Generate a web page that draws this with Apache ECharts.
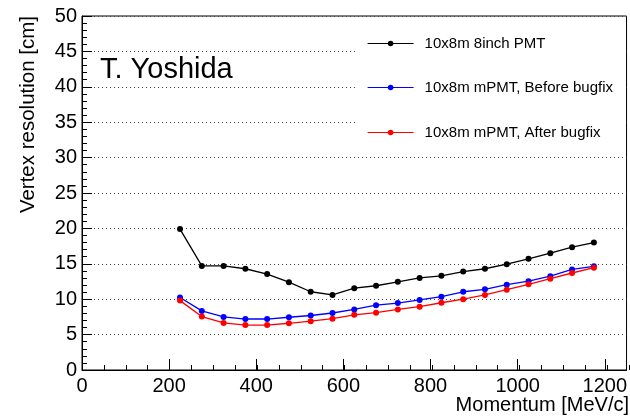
<!DOCTYPE html>
<html>
<head>
<meta charset="utf-8">
<script src="https://cdn.jsdelivr.net/npm/echarts@6/dist/echarts.min.js"></script>
<style>
  html, body { margin: 0; padding: 0; background: #fff; }
  #chart { width: 630px; height: 416px; }
</style>
</head>
<body>
<div id="chart"></div>
<script>
// Beam momentum points [MeV/c]
const momentum = [225, 275, 325, 375, 425, 475, 525, 575, 625, 675,
                  725, 775, 825, 875, 925, 975, 1025, 1075, 1125, 1175];

// Vertex resolution [cm] for each detector configuration
const pmt8inch = [19.9, 14.7, 14.7, 14.3, 13.55, 12.4, 11.05, 10.6, 11.55, 11.9,
                  12.45, 13.0, 13.3, 13.9, 14.3, 14.95, 15.7, 16.5, 17.35, 18.0];
const mpmtBefore = [10.25, 8.35, 7.5, 7.2, 7.2, 7.45, 7.7, 8.05, 8.55, 9.15,
                    9.45, 9.9, 10.35, 11.05, 11.4, 12.05, 12.55, 13.25, 14.2, 14.65];
const mpmtAfter = [9.8, 7.55, 6.65, 6.35, 6.35, 6.6, 6.9, 7.25, 7.8, 8.1,
                   8.55, 8.95, 9.5, 10.0, 10.6, 11.35, 12.1, 12.9, 13.7, 14.45];

const seriesNames = ['10x8m 8inch PMT', '10x8m mPMT, Before bugfix', '10x8m mPMT, After bugfix'];
const seriesColors = ['#000000', '#0000ff', '#ff0000'];

const FONT = 'Liberation Sans, Arial, Helvetica, sans-serif';
const gridBox = { left: 82, right: 1, top: 16, bottom: 46 };

function pairs(xs, ys) { return xs.map((x, i) => [x, ys[i]]); }

const chart = echarts.init(document.getElementById('chart'), null, { renderer: 'canvas' });

const lineSeries = [pmt8inch, mpmtBefore, mpmtAfter].map((vals, i) => ({
  name: seriesNames[i],
  type: 'line',
  xAxisIndex: 0,
  yAxisIndex: 0,
  data: pairs(momentum, vals),
  symbol: 'circle',
  symbolSize: 6,
  showSymbol: true,
  color: seriesColors[i],
  lineStyle: { color: seriesColors[i], width: 1.3 },
  itemStyle: { color: seriesColors[i] },
  z: 3 + i,
  animation: false
}));

const legendRows = [44, 88, 133];
const legends = seriesNames.map((n, i) => ({
  data: [n],
  left: 367,
  top: legendRows[i] - 8,
  padding: 0,
  itemWidth: 46,
  itemHeight: 7,
  itemGap: 10,
  lineStyle: { width: 1.2, color: seriesColors[i] },
  itemStyle: { color: seriesColors[i] },
  textStyle: { fontFamily: FONT, fontSize: 15, color: '#000', padding: [0, 0, 0, 6] },
  selectedMode: false,
  z: 6
}));

chart.setOption({
  backgroundColor: '#fff',
  animation: false,
  grid: [
    Object.assign({ show: true, borderColor: '#000', borderWidth: 1, backgroundColor: 'transparent' }, gridBox),
    Object.assign({ show: false }, gridBox)
  ],
  legend: legends,
  xAxis: [
    {
      type: 'value', gridIndex: 0, min: 0, max: 1250, interval: 200,
      axisLine: { show: true, lineStyle: { color: '#000', width: 1 } },
      axisTick: { show: true, inside: true, length: 11, lineStyle: { color: '#000' } },
      axisLabel: { show: true, showMaxLabel: false, margin: 6, color: '#000', fontFamily: FONT, fontSize: 20,
                   formatter: v => String(v) },
      splitLine: { show: false }
    },
    {
      // minor ticks every 50 MeV/c
      type: 'value', gridIndex: 1, min: 0, max: 1250, interval: 50,
      axisLine: { show: false },
      axisTick: { show: true, inside: true, length: 5, lineStyle: { color: '#000' } },
      axisLabel: { show: false },
      splitLine: { show: false }
    }
  ],
  yAxis: [
    {
      type: 'value', gridIndex: 0, min: 0, max: 50, interval: 5,
      axisLine: { show: true, lineStyle: { color: '#000', width: 1 } },
      axisTick: { show: true, inside: true, length: 10, lineStyle: { color: '#000' } },
      minorTick: { show: true, splitNumber: 5, length: 5, lineStyle: { color: '#000' } },
      axisLabel: { margin: 5, color: '#000', fontFamily: FONT, fontSize: 20 },
      splitLine: { show: true, lineStyle: { color: '#444', width: 1, type: [1, 3] } }
    },
    {
      type: 'value', gridIndex: 1, min: 0, max: 50,
      show: false
    }
  ],
  graphic: [
    {
      // opaque legend panel hiding the grid lines behind it
      type: 'rect', z: 5,
      shape: { x: 356, y: 20, width: 269, height: 126 },
      style: { fill: '#fff' }
    },
    {
      type: 'text', left: 100, top: 55, z: 5,
      style: { text: 'T. Yoshida', fontFamily: FONT, fontSize: 29, fill: '#000' }
    },
    {
      type: 'text', x: 28, y: 16, rotation: Math.PI / 2,
      style: { text: 'Vertex resolution [cm]', fontFamily: FONT, fontSize: 20.5, fill: '#000',
               align: 'right', verticalAlign: 'middle' }
    },
    {
      type: 'text', x: 629, y: 405,
      style: { text: 'Momentum [MeV/c]', fontFamily: FONT, fontSize: 20, fill: '#000',
               align: 'right', verticalAlign: 'middle' }
    }
  ],
  series: lineSeries
});
</script>
</body>
</html>
